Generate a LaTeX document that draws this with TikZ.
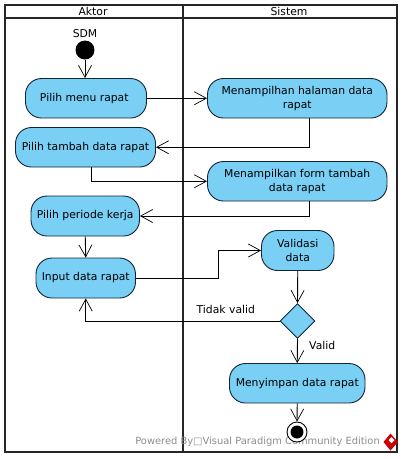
\documentclass[tikz,border=0pt]{standalone}
\usepackage{fontspec}
\setmainfont{DejaVu Sans}
\usetikzlibrary{arrows.meta,shapes.geometric}
\definecolor{actblue}{HTML}{7ACFF5}
\definecolor{actline}{HTML}{10253A}
\tikzset{
    act/.style={draw=actline, fill=actblue, rounded corners=16, line width=0.9, align=center, inner sep=0, font=\fontsize{10.8}{13.8}\selectfont},
    flow/.style={-{Straight Barb[length=12,width=13,line width=0.7]}, line width=0.9, black},
    lane/.style={draw=black!85, line width=2},
    lbl/.style={inner sep=0, font=\fontsize{10.8}{13}\selectfont}
}
\begin{document}
\begin{tikzpicture}[x=1pt, y=-1pt]
    \useasboundingbox (0,0) rectangle (403,459);
    % Swimlanes
    \draw[lane] (4.5,4.5) rectangle (397,452);
    \draw[lane] (4.5,18) -- (397,18);
    \draw[lane] (182.5,4.5) -- (182.5,452);
    \node[lbl] (aktor) at (93,11) {Aktor};
    \node[lbl] (sistem) at (289,11) {Sistem};
    % Footer
    \node[lbl, anchor=east, text=black!45, font=\fontsize{9.9}{12}\selectfont] (powered) at (380,442) {Powered By□Visual Paradigm Community Edition};
    \fill[red!80!black] (390.5,433.5) -- (398,442) -- (390.5,450.5) -- (383.5,442) -- cycle;
    \fill[white] (391.5,437) -- (394.5,440) -- (391.5,443) -- (388.5,440) -- cycle;
    % Start
    \node[lbl] (sdm) at (85,33.5) {SDM};
    \node[circle, fill=black, minimum size=19, inner sep=0] (start) at (85,50) {};
    % Aktor
    \node[act, minimum width=121, minimum height=39.5] (menu) at (86,98.25) {Pilih menu rapat\ };
    \node[act, minimum width=140, minimum height=39.5] (tambah) at (85.5,147.25) {Pilih tambah data rapat};
    \node[act, minimum width=108.5, minimum height=40] (periode) at (85.25,216) {Pilih periode kerja};
    \node[act, minimum width=99.5, minimum height=40] (input) at (85.75,278) {Input data rapat};
    % Sistem
    \node[act, minimum width=179.5, minimum height=39.5] (halaman) at (297.25,98.25) {Menampilhan halaman data\\rapat};
    \node[act, minimum width=179.5, minimum height=39.5] (form) at (297.25,181.25) {Menampilkan form tambah\\data rapat};
    \node[act, minimum width=72.5, minimum height=40] (validasi) at (297.75,250.5) {Validasi\\data};
    \node[diamond, draw=actline, fill=actblue, line width=0.9, minimum size=35, inner sep=0] (cek) at (297.5,321) {};
    \node[act, minimum width=135.5, minimum height=39.5] (simpan) at (297.25,383.25) {Menyimpan data rapat};
    % End
    \node[circle, draw=black, fill=white, line width=0.9, minimum size=20, inner sep=0] (end) at (297,432) {};
    \node[circle, fill=black, minimum size=13, inner sep=0] (enddot) at (end) {};
    % Flow
    \draw[flow] (start) -- (start |- menu.north);
    \draw[flow] (menu) -- (halaman);
    \draw[flow] ([xshift=12]halaman.south) |- (tambah.east);
    \draw[flow] ([xshift=6]tambah.south) |- (form.west);
    \draw[flow] ([xshift=12]form.south) |- (periode.east);
    \draw[flow] (periode.south) -- (input.north);
    \draw[flow] (input.east) -- (218,278) |- (validasi.west);
    \draw[flow] (validasi.south) -- (cek.north);
    \draw[flow] (cek.west) -| (input.south);
    \draw[flow] (cek.south) -- (simpan.north);
    \draw[flow] (simpan.south) -- (end.north);
    \node[lbl, anchor=west] (tidak) at (196.5,309) {Tidak valid};
    \node[lbl, anchor=west] (valid) at (309,345) {Valid};
\end{tikzpicture}
\end{document}
